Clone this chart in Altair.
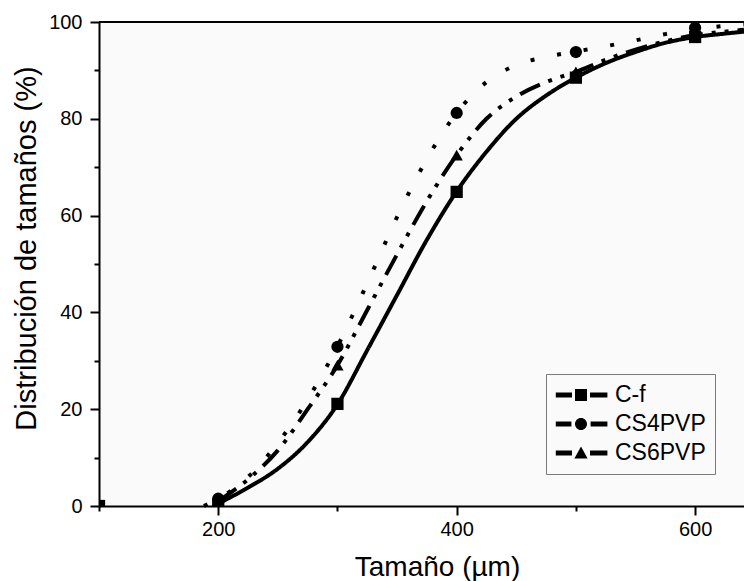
import altair as alt
import pandas as pd

series = ["C-f", "CS4PVP", "CS6PVP"]

# Measured points (markers)
size_um = [100, 200, 300, 400, 500, 600]
cf_pts = [0.0, 0.3, 21.1, 64.9, 88.5, 96.9]
cs4_pts = [0.0, 1.5, 32.9, 81.2, 93.8, 98.8]
cs6_pts = [0.0, 1.0, 29.1, 72.5, 89.7, 97.6]

# Fitted curves, values
cf_fit_x = [200, 225, 250, 275, 300, 325, 350, 375, 400, 425, 450, 475, 500, 525, 550, 575, 600, 625, 641]
cf_fit_y = [0.5, 3.8, 7.7, 13.2, 21.0, 32.2, 43.6, 55.0, 65.0, 73.2, 80.0, 84.8, 88.5, 91.5, 93.8, 95.7, 96.9, 97.6, 98.0]
cs4_fit_x = [188, 200, 225, 250, 275, 300, 325, 350, 375, 400, 425, 450, 475, 500, 525, 550, 575, 600, 625, 641]
cs4_fit_y = [0.0, 1.5, 6.0, 13.0, 22.0, 33.0, 46.0, 59.7, 71.7, 81.2, 87.6, 91.1, 92.8, 93.9, 95.0, 96.2, 97.5, 98.5, 99.2, 99.5]
cs6_fit_x = [200, 225, 250, 275, 300, 325, 350, 375, 400, 425, 450, 475, 500, 525, 550, 575, 600, 625, 641]
cs6_fit_y = [1.0, 5.5, 11.5, 20.0, 29.1, 40.5, 52.0, 63.0, 72.5, 80.0, 84.6, 87.6, 89.7, 92.2, 94.3, 96.0, 97.3, 98.0, 98.4]

x_ticks = [100, 200, 300, 400, 500, 600]
y_ticks = [0, 10, 20, 30, 40, 50, 60, 70, 80, 90, 100]

FONT = "Liberation Sans"
BG = "#fafafa"

pts = pd.DataFrame({
    "size": size_um * 3,
    "value": cf_pts + cs4_pts + cs6_pts,
    "series": [series[0]] * 6 + [series[1]] * 6 + [series[2]] * 6,
})
fit = pd.DataFrame({
    "size": cf_fit_x + cs4_fit_x + cs6_fit_x,
    "value": cf_fit_y + cs4_fit_y + cs6_fit_y,
    "series": [series[0]] * len(cf_fit_x) + [series[1]] * len(cs4_fit_x) + [series[2]] * len(cs6_fit_x),
})

xscale = alt.Scale(domain=[100, 641], nice=False, zero=False)
yscale = alt.Scale(domain=[0, 100], nice=False)

xaxis = alt.Axis(
    title="Tamaño (µm)", values=x_ticks,
    labelExpr="datum.value % 200 === 0 ? datum.label : ''",
    tickSize={"condition": {"test": "datum.value % 200 === 0", "value": 9}, "value": 5},
    labelPadding=4, titleX=338, titleY=69, titleBaseline="alphabetic", titleAlign="center",
)
yaxis = alt.Axis(
    title="Distribución de tamaños (%)", values=y_ticks,
    labelExpr="datum.value % 20 === 0 ? datum.label : ''",
    tickSize={"condition": {"test": "datum.value % 20 === 0", "value": 9}, "value": 5},
    labelPadding=8, titleX=-64, titleY=226, titleAngle=-90, titleFontSize=29,
    titleBaseline="alphabetic", titleAlign="center",
)

lines = alt.Chart(fit).mark_line(strokeWidth=4, color="black", interpolate="monotone", strokeCap="butt").encode(
    x=alt.X("size:Q", scale=xscale, axis=xaxis),
    y=alt.Y("value:Q", scale=yscale, axis=yaxis),
    strokeDash=alt.StrokeDash("series:N", scale=alt.Scale(domain=series, range=[[1, 0], [4, 23], [22, 9, 4, 9, 4, 9]]), legend=None),
    detail="series:N",
)

points = alt.Chart(pts).mark_point(filled=True, size=150, color="black", opacity=1, clip=True).encode(
    x=alt.X("size:Q", scale=xscale),
    y=alt.Y("value:Q", scale=yscale),
    shape=alt.Shape("series:N", scale=alt.Scale(domain=series, range=["square", "circle", "triangle-up"]), legend=None),
)

top = alt.Chart(pd.DataFrame({"value": [100]})).mark_rule(color="black", strokeWidth=2).encode(
    y=alt.Y("value:Q", scale=yscale), x=alt.value(0), x2=alt.value(645)
)

leg_paths = [
    "M-2.1,-0.2H-0.75V0.2H-2.1Z M-0.5,-0.5H0.5V0.5H-0.5Z M0.75,-0.2H2.2V0.2H0.75Z",
    "M-2.1,-0.2H-0.8V0.2H-2.1Z M0.5,0A0.5,0.5,0,1,1,-0.5,0A0.5,0.5,0,1,1,0.5,0Z M0.8,-0.2H2.2V0.2H0.8Z",
    "M-2.1,-0.2H-0.75V0.2H-2.1Z M0,-0.55L0.55,0.45H-0.55Z M0.75,-0.2H2.2V0.2H0.75Z",
]
legend_layer = alt.Chart(pts).transform_filter("false").mark_point(filled=True, color="black", size=576, opacity=1).encode(
    x=alt.X("size:Q", scale=xscale),
    y=alt.Y("value:Q", scale=yscale),
    shape=alt.Shape("series:N", scale=alt.Scale(domain=series, range=leg_paths),
                    legend=alt.Legend(orient="none", legendX=447, legendY=352, title=None,
                                      labelFontSize=23, labelFont=FONT, labelColor="black",
                                      symbolSize=576, symbolOffset=14, labelOffset=22,
                                      padding=9, rowPadding=5, strokeColor="#7a7a7a",
                                      fillColor=BG, symbolStrokeWidth=0, symbolFillColor="black",
                                      symbolOpacity=1)),
)

chart = alt.layer(lines, points, top, legend_layer).resolve_scale(shape="independent").properties(
    width=645, height=484,
    autosize=alt.AutoSizeParams(type="none"),
    padding={"left": 99, "top": 22, "right": 0, "bottom": 75},
    background="white",
).configure_view(stroke=None, fill=BG).configure_axis(
    grid=False, domainColor="black", domainWidth=2, tickColor="black", tickWidth=2,
    labelFont=FONT, labelFontSize=20, labelColor="black",
    titleFont=FONT, titleFontSize=28, titleFontWeight="normal", titleColor="black",
)

chart.save("out.html", embed_options={"renderer": "svg", "actions": False})
